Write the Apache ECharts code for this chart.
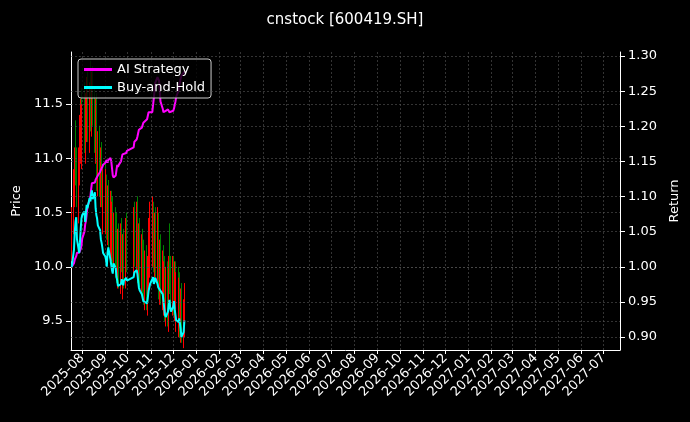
<!DOCTYPE html>
<html><head><meta charset="utf-8">
<script src="https://cdn.jsdelivr.net/npm/echarts@6/dist/echarts.min.js"></script>
<style>html,body{margin:0;background:#000}#c{width:690px;height:422px}</style>
</head><body><div id="c"></div>
<script>
const title = 'cnstock [600419.SH]';
const startDate = '2025-07-18', endDate = '2025-12-16';
const holidays = ['2025-10-01','2025-10-02','2025-10-03','2025-10-06','2025-10-07','2025-10-08'];
const closes = [10.40,10.75,10.95,11.10,10.90,10.70,10.95,11.25,11.40,11.15,
11.35,11.50,11.20,11.45,11.60,11.30,11.55,11.70,11.40,11.65,11.45,11.20,11.40,11.05,10.85,11.10,10.80,10.95,10.70,10.55,10.75,
10.50,10.75,10.40,10.60,10.30,10.55,10.25,10.45,10.15,10.35,10.05,10.30,10.00,10.20,9.95,10.25,10.10,9.90,10.15,9.95,10.30,10.10,
10.40,10.15,10.45,10.20,10.00,10.25,9.95,10.15,9.85,10.05,9.80,10.00,9.75,9.95,10.30,10.10,10.45,
10.20,10.50,10.10,10.35,10.05,10.40,10.00,9.85,10.10,9.80,10.00,9.75,9.90,9.65,9.85,9.60,9.95,10.20,9.90,9.75,
9.95,9.70,9.90,9.60,9.80,9.55,9.75,9.50,9.65,9.45,9.55,9.70];
const opens = [10.20,10.45,10.70,11.20,11.15,10.95,10.55,10.90,11.10,11.50,
11.05,11.20,11.55,11.10,11.30,11.65,11.20,11.40,11.75,11.35,11.70,11.50,11.10,11.45,11.15,10.80,11.15,10.70,11.00,10.80,10.45,
10.80,10.45,10.70,10.35,10.65,10.25,10.55,10.20,10.50,10.10,10.40,10.00,10.35,9.95,10.25,9.90,10.30,10.15,9.85,10.20,9.95,10.35,
10.05,10.45,10.10,10.50,10.25,9.95,10.30,9.90,10.20,9.85,10.10,9.75,10.05,9.70,9.90,10.35,10.05,
10.50,10.15,10.45,10.05,10.40,10.00,10.35,10.10,9.80,10.15,9.75,10.05,9.70,9.95,9.60,9.90,9.55,9.90,10.25,9.95,
9.70,9.95,9.65,9.90,9.55,9.85,9.50,9.80,9.45,9.70,9.40,9.50];
const wick = 0.15;
const buyHoldValue = [10.20,10.45,10.70,10.85,10.92,10.60,10.40,10.55,10.75,10.90,
10.95,11.00,10.85,10.98,11.10,11.05,11.20,11.15,11.25,11.31,11.18,11.28,11.05,10.95,10.90,10.80,10.73,10.60,10.55,10.48,10.40,
10.35,10.30,10.20,10.40,10.48,10.30,10.22,10.15,10.10,10.25,10.18,10.05,10.00,9.92,9.90,9.95,10.02,9.97,9.93,10.00,10.04,10.00,
10.05,10.12,10.15,10.10,10.00,9.90,9.86,9.80,9.75,9.70,9.68,9.72,9.67,9.75,9.85,9.90,9.95,
10.02,10.05,9.95,9.98,10.04,9.95,9.90,9.88,9.92,9.85,9.80,9.70,9.60,9.50,9.47,9.55,9.65,9.72,9.60,9.55,
9.62,9.70,9.58,9.50,9.42,9.40,9.45,9.38,9.30,9.18,9.25,9.42];
const aiStrategy = [1.00,1.005,1.01,1.01,1.015,1.02,1.02,1.02,1.025,1.03,
1.04,1.05,1.06,1.065,1.075,1.085,1.095,1.10,1.11,1.119,1.118,1.12,1.124,1.124,1.126,1.13,1.135,1.138,1.14,1.142,1.145,
1.148,1.15,1.152,1.148,1.152,1.155,1.15,1.14,1.13,1.127,1.13,1.138,1.145,1.142,1.145,1.15,1.155,1.16,1.158,1.16,1.162,1.165,
1.17,1.178,1.181,1.185,1.19,1.195,1.193,1.198,1.2,1.205,1.203,1.205,1.21,1.215,1.22,1.22,1.218,
1.22,1.23,1.24,1.25,1.262,1.27,1.272,1.265,1.25,1.235,1.225,1.22,1.219,1.22,1.222,1.224,1.222,1.22,1.22,1.221,
1.222,1.225,1.23,1.235,1.242,1.25,1.258,1.262,1.268,1.272,1.276,1.278];
const priceTicks = [9.5,10.0,10.5,11.0,11.5];
const returnTicks = [0.90,0.95,1.00,1.05,1.10,1.15,1.20,1.25,1.30];

const dates = [];
for (let d = new Date(startDate+'T00:00:00Z'); d <= new Date(endDate+'T00:00:00Z'); d.setUTCDate(d.getUTCDate()+1)) {
  const s = d.toISOString().slice(0,10), w = d.getUTCDay();
  if (w===0||w===6||holidays.includes(s)) continue;
  dates.push(s);
}
const candle = dates.map((t,i)=>[t, opens[i], closes[i], Math.min(opens[i],closes[i])-wick, Math.max(opens[i],closes[i])+wick]);
const bh = dates.map((t,i)=>[t, buyHoldValue[i]/buyHoldValue[0]]);
const ai = dates.map((t,i)=>[t, aiStrategy[i]]);
const gridLine = {color:'#555', type:[2,2], width:0.6};
const txt = {color:'#fff', fontSize:13, fontFamily:'DejaVu Sans'};
const chart = echarts.init(document.getElementById('c'));
chart.setOption({
  backgroundColor:'#000', animation:false,
  title:{text:title,left:'center',top:8,textStyle:{color:'#fff',fontSize:15,fontWeight:'normal',fontFamily:'DejaVu Sans'}},
  grid:{left:71,right:70,top:52,bottom:72},
  legend:{left:78,top:59,orient:'vertical',itemGap:5,padding:[4,6,4,6],backgroundColor:'rgba(0,0,0,0.8)',borderColor:'#ccc',borderWidth:1,borderRadius:3,
    itemWidth:28,itemHeight:3,icon:'rect',textStyle:{color:'#fff',fontSize:13,fontFamily:'DejaVu Sans'},data:['AI Strategy','Buy-and-Hold']},
  xAxis:{type:'time',min:'2025-07-17',max:'2027-07-23',minInterval:28*864e5,maxInterval:31*864e5,
    axisLine:{lineStyle:{color:'#fff'}},axisTick:{lineStyle:{color:'#fff'},length:4},
    axisLabel:Object.assign({rotate:45,formatter:'{yyyy}-{MM}',hideOverlap:false,margin:6},txt),
    splitLine:{show:true,lineStyle:gridLine}},
  yAxis:[
    {type:'value',min:9.233,max:11.98,name:'Price',nameLocation:'middle',nameGap:46,nameRotate:90,nameTextStyle:txt,
     axisLine:{show:true,lineStyle:{color:'#fff'}},axisTick:{show:true,customValues:priceTicks,lineStyle:{color:'#fff'}},
     axisLabel:Object.assign({customValues:priceTicks,formatter:v=>v.toFixed(1)},txt),splitLine:{show:false}},
    {type:'value',min:0.8815,max:1.3057,name:'Return',nameLocation:'middle',nameGap:46,nameRotate:90,nameTextStyle:txt,position:'right',
     axisLine:{show:true,lineStyle:{color:'#fff'}},axisTick:{show:true,customValues:returnTicks,lineStyle:{color:'#fff'}},
     axisLabel:Object.assign({customValues:returnTicks,formatter:v=>v.toFixed(2)},txt),splitLine:{show:false}}
  ],
  series:[
    {type:'candlestick',name:'Price',yAxisIndex:0,data:candle,barWidth:1.3,
     itemStyle:{color:'#ff0000',color0:'#008000',borderColor:'#ff0000',borderColor0:'#008000',borderWidth:1},
     markLine:{silent:true,symbol:'none',label:{show:false},lineStyle:gridLine,data:priceTicks.map(v=>({yAxis:v}))}},
    {type:'line',name:'AI Strategy',yAxisIndex:1,data:ai,showSymbol:false,lineStyle:{color:'#ff00ff',width:2},itemStyle:{color:'#ff00ff'},z:3,
     markLine:{silent:true,symbol:'none',label:{show:false},lineStyle:gridLine,data:returnTicks.map(v=>({yAxis:v}))}},
    {type:'line',name:'Buy-and-Hold',yAxisIndex:1,data:bh,showSymbol:false,lineStyle:{color:'#00ffff',width:2},itemStyle:{color:'#00ffff'},z:3}
  ]
});
</script></body></html>
